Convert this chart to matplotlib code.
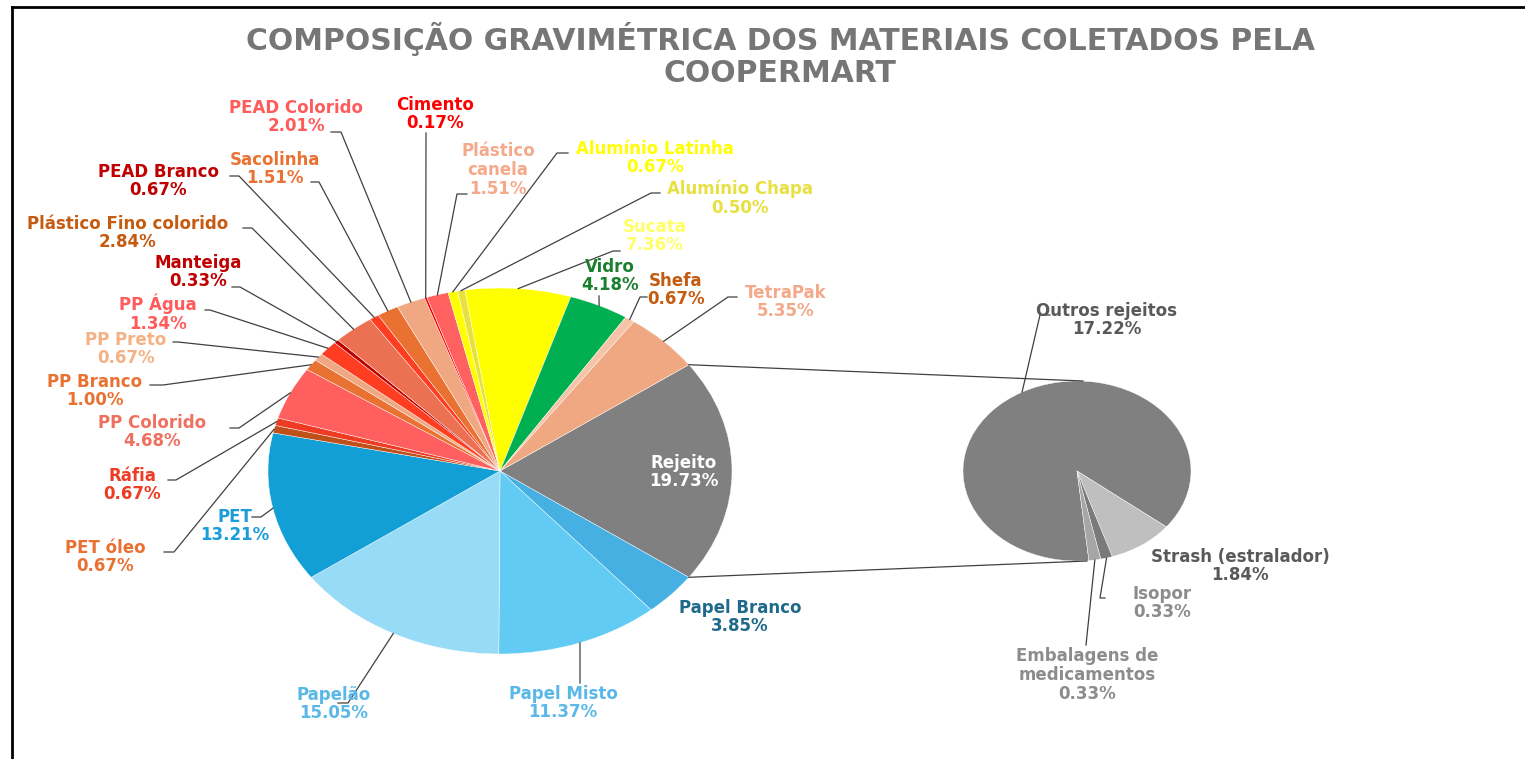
import numpy as np
import matplotlib.pyplot as plt

# data
main_labels = ["Rejeito", "Papel Branco", "Papel Misto", "Papelão", "PET", "PET óleo",
               "Ráfia", "PP Colorido", "PP Branco", "PP Preto", "PP Água", "Manteiga",
               "Plástico Fino colorido", "PEAD Branco", "Sacolinha", "PEAD Colorido",
               "Cimento", "Plástico\ncanela", "Alumínio Latinha", "Alumínio Chapa",
               "Sucata", "Vidro", "Shefa", "TetraPak"]
main_values = [19.73, 3.85, 11.37, 15.05, 13.21, 0.67, 0.67, 4.68, 1.00, 0.67, 1.34, 0.33,
               2.84, 0.67, 1.51, 2.01, 0.17, 1.51, 0.67, 0.50, 7.36, 4.18, 0.67, 5.35]
main_colors = ["#808080", "#45B0E1", "#61CBF3", "#98DBF7", "#129FD6", "#C0501A",
               "#EE3B23", "#FF5F5F", "#E97132", "#F0A882", "#FF3D20", "#C00000",
               "#EC7152", "#FF3D20", "#E97132", "#F0A882", "#FF0000", "#FF6060",
               "#FFFF00", "#E6E040", "#FFFF00", "#00B050", "#F5C3A5", "#F0A882"]
label_colors = ["#FFFFFF", "#1F6A8A", "#5AB8E8", "#5AB8E8", "#1B9DD9", "#E97132",
                "#EE3B23", "#F07060", "#E97132", "#F4B183", "#FF5B5B", "#C00000",
                "#C55A11", "#C00000", "#E97132", "#FF5B5B", "#FF0000", "#F4A98A",
                "#FFFF00", "#E6E040", "#FFFF66", "#1A7F2E", "#C55A11", "#F4A98A"]

sub_labels = ["Outros rejeitos", "Strash (estralador)", "Isopor", "Embalagens de\nmedicamentos"]
sub_values = [17.22, 1.84, 0.33, 0.33]
sub_colors = ["#808080", "#BFBFBF", "#7A7A7A", "#A6A6A6"]
sub_label_colors = ["#595959", "#595959", "#8C8C8C", "#8C8C8C"]

# layout (pixels)
W, H = 1525, 759
cx, cy, rx, ry = 500, 471, 232, 183
cx2, cy2, rx2, ry2 = 1077, 471, 114, 90

# label centre positions; leader start (x, y, horizontal stub length) or None
main_pos = [(684, 472), (740, 617), (563, 703), (334, 704), (235, 526), (105, 557),
            (132, 485), (152, 432), (95, 391), (126, 349), (158, 313), (198, 272),
            (128, 233), (158, 181), (275, 169), (296, 117), (435, 114), (498, 170),
            (655, 158), (740, 198), (655, 236), (610, 276), (676, 290), (786, 302)]
main_lead = [None, None, (580, 683, 0), (338, 703, 10), (252, 517, 9), (164, 552, 10),
             (168, 480, 8), (230, 428, 9), (150, 385, 13), (173, 342, 5), (205, 310, 5),
             (232, 287, 8), (243, 228, 9), (230, 176, 9), (311, 182, 8), (331, 132, 10),
             (426, 133, 0), (467, 194, -10), (568, 153, -11), (660, 193, -9),
             (620, 251, -7), (599, 296, 0), (647, 297, -7), (737, 297, -9)]
sub_pos = [(1107, 320), (1240, 566), (1162, 603), (1087, 675)]
sub_lead = [(1050, 315, -10), None, (1105, 598, -5), (1086, 645, 0)]

plt.rcParams['font.family'] = ['DejaVu Sans']
fig = plt.figure(figsize=(W / 100, H / 100), dpi=100)

# main pie
ax1 = fig.add_axes([(cx - rx) / W, 1 - (cy + ry) / H, 2 * rx / W, 2 * ry / H])
start1 = 360 * main_values[0] / sum(main_values) / 2
ax1.pie(main_values, colors=main_colors, startangle=start1, counterclock=False,
        wedgeprops=dict(linewidth=0.3, edgecolor="white"))
ax1.set_aspect('auto')
ax1.set_xlim(-1, 1)
ax1.set_ylim(-1, 1)

# secondary pie
ax2 = fig.add_axes([(cx2 - rx2) / W, 1 - (cy2 + ry2) / H, 2 * rx2 / W, 2 * ry2 / H])
start2 = -84
ax2.pie(sub_values, colors=sub_colors, startangle=start2, counterclock=False,
        wedgeprops=dict(linewidth=0.3, edgecolor="white"))
ax2.set_aspect('auto')
ax2.set_xlim(-1, 1)
ax2.set_ylim(-1, 1)

# overlay in pixel coords
ov = fig.add_axes([0, 0, 1, 1], zorder=5)
ov.set_xlim(0, W)
ov.set_ylim(H, 0)
ov.axis('off')
ov.patch.set_alpha(0)


def mid_points(values, start, x0, y0, a, b):
    tot = sum(values)
    cum = np.cumsum([0] + list(values))
    pts = []
    for i, v in enumerate(values):
        th = np.deg2rad(start - 360 * (cum[i] + v / 2) / tot)
        pts.append((x0 + a * np.cos(th), y0 - b * np.sin(th)))
    return pts


def draw_labels(labels, values, pos, leads, colors, pts):
    for i, lab in enumerate(labels):
        x, y = pos[i]
        ov.text(x, y, f"{lab}\n{values[i]:.2f}%", ha='center', va='center',
                fontsize=12, fontweight='bold', color=colors[i], linespacing=1.05)
        if leads[i] is not None:
            sx, sy, dx = leads[i]
            px, py = pts[i]
            ov.plot([sx, sx + dx, px], [sy, sy, py], color="#404040", lw=0.9)


draw_labels(main_labels, main_values, main_pos, main_lead, label_colors,
            mid_points(main_values, start1, cx, cy, rx, ry))
draw_labels(sub_labels, sub_values, sub_pos, sub_lead, sub_label_colors,
            mid_points(sub_values, start2, cx2, cy2, rx2, ry2))

# connector lines between pies
a = np.deg2rad(start1)
ov.plot([cx + rx * np.cos(a), cx2 + 6], [cy - ry * np.sin(a), cy2 - ry2], color="#404040", lw=0.9)
ov.plot([cx + rx * np.cos(a), cx2 + 10], [cy + ry * np.sin(a), cy2 + ry2], color="#404040", lw=0.9)

# title
ov.text(780, 55, "COMPOSIÇÃO GRAVIMÉTRICA DOS MATERIAIS COLETADOS PELA\nCOOPERMART",
        ha='center', va='center', fontsize=21.5, fontweight='bold', color="#767676",
        linespacing=1.1)

# frame
ov.plot([12, 12], [7, H], color="black", lw=2)
ov.plot([12, W], [7, 7], color="black", lw=2)

fig.savefig("out.png", dpi=100)
